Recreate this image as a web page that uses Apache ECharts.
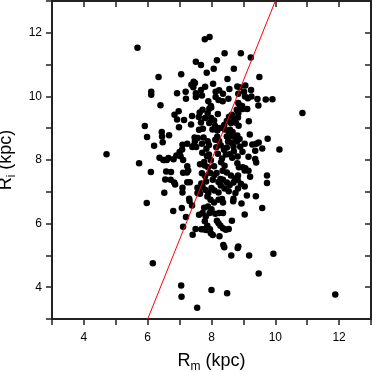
<!DOCTYPE html>
<html>
<head>
<meta charset="utf-8">
<script src="https://cdn.jsdelivr.net/npm/echarts@6/dist/echarts.min.js"></script>
<style>
  html, body { margin: 0; padding: 0; background: #fff; }
  #chart { width: 373px; height: 372px; }
</style>
</head>
<body>
<div id="chart"></div>
<script>
// star positions, [Rm, Ri] in kpc
const stars = [
  [5.68, 11.53], [4.71, 8.18], [5.73, 7.90], [5.97, 6.65], [6.16, 4.75],
  [7.05, 4.05], [7.06, 3.70], [7.55, 3.35], [8.00, 3.91], [8.49, 3.81],
  [9.48, 4.43], [11.88, 3.77], [10.85, 9.48], [10.13, 8.33], [9.94, 5.05],
  [9.18, 5.00], [8.62, 5.00], [8.82, 5.23], [8.84, 5.28], [8.37, 5.33],
  [8.40, 5.26], [8.25, 5.60], [7.79, 11.80], [7.94, 11.87], [8.41, 11.36],
  [8.92, 11.36], [9.23, 11.22], [7.51, 11.09], [7.67, 10.99], [8.17, 11.14],
  [8.07, 10.87], [8.70, 10.87], [7.85, 10.74], [7.05, 10.70], [6.34, 10.61],
  [9.50, 10.61], [6.11, 10.15], [6.11, 10.05], [6.40, 9.72], [6.92, 10.10],
  [7.19, 10.15], [7.20, 9.93], [7.37, 10.37], [7.44, 10.46], [7.48, 10.42],
  [7.43, 10.29], [7.67, 10.20], [7.51, 10.10], [7.51, 9.98], [7.70, 10.03],
  [8.13, 10.15], [8.24, 10.19], [8.13, 9.98], [8.36, 10.08], [8.56, 10.23],
  [8.35, 9.85], [8.84, 10.08], [8.88, 10.29], [9.02, 10.15], [9.05, 10.00],
  [8.81, 10.31], [9.06, 10.34], [9.24, 10.20], [9.25, 10.00], [9.44, 9.92],
  [9.47, 9.71], [9.70, 9.90], [9.91, 9.91], [9.14, 9.94], [8.96, 9.70],
  [9.12, 9.60], [9.17, 9.22], [9.20, 8.80], [9.48, 8.55], [9.40, 8.51],
  [9.28, 8.49], [9.59, 8.36], [9.76, 8.67], [9.37, 8.29], [9.37, 8.03],
  [9.40, 7.92], [9.16, 8.10], [9.74, 7.51], [9.74, 7.28], [9.39, 6.86],
  [9.59, 6.49], [9.04, 6.29], [9.16, 7.66], [9.06, 7.74], [9.21, 7.47],
  [8.92, 7.25], [8.82, 7.38], [9.04, 7.17], [9.11, 6.88], [8.94, 6.63],
  [8.68, 6.70], [8.69, 6.78], [5.91, 9.07], [5.98, 8.72], [6.20, 8.45],
  [6.44, 8.88], [6.45, 8.74], [6.47, 8.56], [6.67, 8.78], [6.37, 8.07],
  [6.49, 8.00], [6.53, 8.00], [6.60, 8.00], [6.65, 8.06], [6.10, 7.62],
  [6.58, 7.64], [6.73, 7.62], [6.55, 7.39], [6.72, 7.38], [6.83, 7.29],
  [6.86, 7.23], [6.52, 6.97], [6.80, 6.40], [6.84, 9.42], [6.92, 9.27],
  [6.97, 9.53], [7.14, 9.26], [6.98, 9.03], [7.00, 8.25], [7.08, 8.33],
  [7.03, 8.12], [7.11, 8.00], [7.09, 8.48], [7.24, 8.51], [7.39, 9.38],
  [7.36, 9.12], [6.81, 8.02], [7.11, 7.60], [7.24, 7.80], [7.27, 7.67],
  [7.23, 7.61], [7.09, 7.13], [7.09, 6.98], [7.24, 7.30], [7.32, 7.30],
  [7.07, 6.49], [7.11, 5.90], [7.20, 6.21], [7.31, 6.71], [7.30, 6.78],
  [7.39, 6.57], [7.41, 5.65], [7.50, 5.83], [7.56, 7.13], [7.61, 7.09],
  [7.56, 6.96], [7.64, 6.94], [7.68, 7.26], [7.70, 7.58], [7.48, 8.59],
  [7.45, 8.46], [7.52, 8.41], [7.40, 8.41], [7.57, 8.69], [7.47, 8.71],
  [7.61, 8.95], [7.67, 9.18], [7.73, 8.98], [7.63, 9.49], [7.72, 9.58],
  [7.93, 9.61], [7.99, 9.65], [7.60, 9.35], [7.90, 9.85], [7.98, 9.70],
  [7.80, 9.32], [7.88, 9.47], [7.99, 9.32], [8.08, 9.24], [7.93, 9.16],
  [8.11, 9.08], [8.03, 8.96], [8.22, 9.89], [8.53, 9.93], [8.18, 8.93],
  [8.27, 9.01], [8.18, 8.73], [7.75, 8.71], [7.88, 8.59], [7.70, 8.51],
  [7.92, 8.47], [7.84, 8.35], [8.12, 8.64], [8.24, 8.60], [8.29, 8.46],
  [7.71, 8.23], [7.86, 8.12], [7.92, 8.17], [7.77, 7.94], [7.98, 7.99],
  [7.64, 7.87], [7.79, 7.83], [7.89, 7.77], [8.08, 7.80], [7.96, 7.59],
  [8.09, 7.53], [8.16, 7.59], [8.04, 7.38], [7.80, 7.50], [7.83, 7.32],
  [7.72, 7.16], [7.81, 7.06], [7.90, 6.96], [8.00, 7.12], [8.09, 7.04],
  [8.22, 6.98], [8.29, 7.20], [8.22, 7.31], [8.28, 7.40], [8.36, 7.38],
  [8.48, 7.29], [8.57, 7.21], [8.41, 7.10], [8.54, 7.02], [7.87, 6.85],
  [7.97, 6.75], [8.08, 6.66], [8.22, 6.75], [8.33, 6.77], [8.36, 6.66],
  [7.77, 6.50], [7.89, 6.54], [8.00, 6.45], [7.94, 6.33], [7.82, 6.22],
  [7.79, 6.07], [7.72, 6.33], [7.61, 6.28], [8.12, 6.31], [8.24, 6.33],
  [8.36, 6.33], [8.17, 6.09], [8.22, 6.01], [8.28, 5.93], [8.36, 5.85],
  [8.45, 5.81], [8.54, 5.83], [8.64, 6.09], [7.87, 5.93], [7.95, 5.82],
  [7.83, 5.80], [7.75, 5.82], [7.98, 5.70], [7.68, 5.82], [8.04, 5.64],
  [8.55, 9.36], [8.64, 9.42], [8.48, 9.23], [8.61, 9.16], [8.70, 9.27],
  [8.84, 9.47], [8.79, 9.58], [8.89, 9.71], [8.84, 9.79], [8.92, 9.60],
  [8.98, 9.60], [8.83, 9.34], [8.76, 9.17], [8.85, 9.08], [8.42, 8.96],
  [8.55, 8.85], [8.48, 8.74], [8.60, 8.76], [8.66, 8.88], [8.73, 8.72],
  [8.81, 8.77], [8.88, 8.66], [8.80, 8.58], [8.52, 8.58], [8.62, 8.55],
  [8.69, 8.42], [8.48, 8.39], [8.39, 8.32], [8.70, 8.27], [8.57, 8.18],
  [8.45, 8.17], [8.65, 8.07], [8.82, 8.11], [8.90, 8.42], [9.04, 8.51],
  [8.97, 8.26], [8.81, 7.90], [8.86, 7.77], [8.98, 7.77], [9.04, 7.67],
  [8.30, 7.93], [8.41, 7.82], [8.35, 7.66], [8.48, 7.61], [8.61, 7.51],
  [8.73, 7.42], [8.83, 7.51], [8.69, 7.29], [8.83, 7.10], [8.75, 6.96],
  [6.90, 8.14], [8.20, 8.20], [8.33, 8.05], [8.15, 8.40], [8.58, 8.95],
  [8.40, 9.10], [8.20, 9.45], [8.05, 10.40], [8.50, 10.55], [7.80, 10.30]
];

// fitted line endpoints
const fitRm = [6, 10];
const fitRi = [3, 13];

const axisMin = 3;
const axisMax = 13;
const tickStep = 2;

const lineColor = '#222';
const font = '"Liberation Sans", Arial, sans-serif';

function mainAxis(pos) {
  return {
    type: 'value',
    position: pos,
    min: axisMin,
    max: axisMax,
    interval: 1,
    splitLine: { show: false },
    axisLine: { show: true, onZero: false, lineStyle: { color: lineColor, width: 2 } },
    axisTick: { show: true, inside: false, length: 6, lineStyle: { color: lineColor, width: 1.5 } },
    axisLabel: {
      color: '#000', fontSize: 12, fontFamily: font,
      formatter: v => (v % tickStep === 0 ? String(v) : '')
    }
  };
}

function mirrorAxis(pos) {
  return {
    type: 'value',
    position: pos,
    min: axisMin,
    max: axisMax,
    interval: 1,
    splitLine: { show: false },
    axisLine: { show: true, onZero: false, lineStyle: { color: lineColor, width: 2 } },
    axisTick: { show: true, inside: true, length: 6, lineStyle: { color: lineColor, width: 1.5 } },
    axisLabel: { show: false }
  };
}

const nameRich = {
  r: { fontSize: 18, fontFamily: font, color: '#000' },
  s: { fontSize: 12, fontFamily: font, color: '#000', padding: [12, 0, 0, 0] }
};

const xMain = mainAxis('bottom');
xMain.axisLabel.margin = 13;
xMain.name = '{r|R}{s|m}{r| (kpc)}';
xMain.nameLocation = 'middle';
xMain.nameGap = 30;
xMain.nameTextStyle = { rich: nameRich };

const yMain = mainAxis('left');
yMain.axisLabel.margin = 10;
yMain.name = '{r|R}{s|i}{r| (kpc)}';
yMain.nameLocation = 'middle';
yMain.nameGap = 27;
yMain.nameTextStyle = { rich: nameRich };

const chart = echarts.init(document.getElementById('chart'), null, { renderer: 'canvas' });
chart.setOption({
  animation: false,
  backgroundColor: '#fff',
  grid: { left: 52, right: 2, top: 1, bottom: 53, containLabel: false, outerBoundsMode: 'none' },
  xAxis: [xMain, mirrorAxis('top')],
  yAxis: [yMain, mirrorAxis('right')],
  series: [
    {
      type: 'scatter',
      data: stars,
      symbol: 'circle',
      symbolSize: 6.5,
      itemStyle: { color: '#000', opacity: 1 },
      clip: true
    },
    {
      type: 'line',
      data: fitRm.map((x, i) => [x, fitRi[i]]),
      symbol: 'none',
      lineStyle: { color: '#ff0000', width: 1 },
      clip: true,
      z: 3
    }
  ]
});
</script>
</body>
</html>
